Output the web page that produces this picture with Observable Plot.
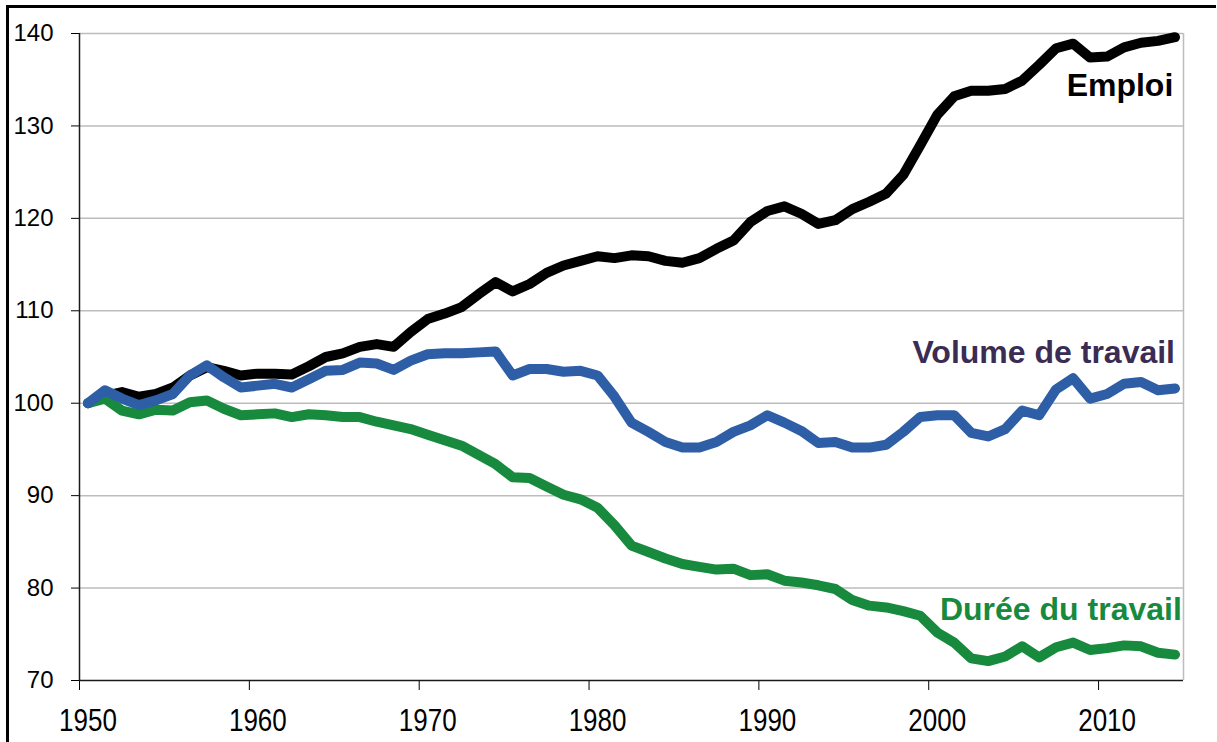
<!DOCTYPE html>
<html><head><meta charset="utf-8">
<script src="https://cdn.jsdelivr.net/npm/d3@7"></script>
<script src="https://cdn.jsdelivr.net/npm/@observablehq/plot@0.6"></script>
<style>
html,body{margin:0;padding:0;background:#fff;}
#wrap{position:relative;width:1217px;height:742px;overflow:hidden;}
#frame{position:absolute;left:6px;top:5px;width:1207px;height:800px;border-top:3px solid #000;border-left:3px solid #000;}
#chart{position:absolute;left:0;top:0;}
</style></head><body><div id="wrap"><div id="frame"></div><div id="chart"></div></div>
<script>
const years = [1950,1951,1952,1953,1954,1955,1956,1957,1958,1959,1960,1961,1962,1963,1964,1965,1966,1967,1968,1969,
1970,1971,1972,1973,1974,1975,1976,1977,1978,1979,1980,1981,1982,1983,1984,1985,1986,1987,1988,1989,
1990,1991,1992,1993,1994,1995,1996,1997,1998,1999,2000,2001,2002,2003,2004,2005,2006,2007,2008,2009,
2010,2011,2012,2013,2014];
const emploi = [100,100.8,101.2,100.7,101.0,101.7,103.0,103.9,103.5,103.0,103.2,103.2,103.1,104.0,105.0,105.4,106.1,106.4,106.1,107.7,
109.1,109.7,110.4,111.8,113.1,112.1,112.9,114.1,114.9,115.4,115.9,115.7,116.0,115.9,115.4,115.2,115.7,116.7,117.6,119.6,
120.8,121.3,120.5,119.4,119.8,121.0,121.8,122.7,124.7,127.9,131.2,133.2,133.8,133.8,134.0,134.9,136.6,138.4,138.9,137.4,
137.5,138.5,139.0,139.2,139.6];
const volume = [100,101.4,100.5,99.8,100.3,101.0,103.0,104.1,102.8,101.7,101.9,102.1,101.7,102.6,103.5,103.6,104.4,104.3,103.6,104.6,
105.3,105.4,105.4,105.5,105.6,103.0,103.7,103.7,103.4,103.5,103.0,100.7,97.9,96.9,95.8,95.2,95.2,95.8,96.9,97.6,
98.7,97.9,97.0,95.7,95.8,95.2,95.2,95.5,96.9,98.5,98.7,98.7,96.8,96.4,97.2,99.2,98.7,101.5,102.7,100.5,
101.0,102.1,102.3,101.4,101.6];
const duree = [100,100.5,99.2,98.8,99.3,99.2,100.1,100.3,99.4,98.7,98.8,98.9,98.5,98.8,98.7,98.5,98.5,98.0,97.6,97.2,
96.6,96.0,95.4,94.4,93.4,92.0,91.9,91.0,90.1,89.6,88.7,86.8,84.6,83.9,83.2,82.6,82.3,82.0,82.1,81.4,
81.5,80.8,80.6,80.3,79.9,78.7,78.1,77.9,77.5,77.0,75.2,74.1,72.4,72.1,72.6,73.7,72.5,73.6,74.1,73.3,
73.5,73.8,73.7,73.0,72.8];
const seriesNames = ["Emploi","Durée du travail","Volume de travail"];
const seriesColors = ["#000000","#178a3d","#2e5ea6"];
const labelNames = ["Emploi","Volume de travail","Durée du travail"];
const labelX = [2014.4, 2014.5, 2014.9];
const labelY = [134.4, 105.5, 77.7];
const labelColors = ["#000000","#3a2c52","#178a3d"];
const yTicks = [70,80,90,100,110,120,130,140];
const xTicks = [1950,1960,1970,1980,1990,2000,2010];

const seriesValues = [emploi, duree, volume];
const lineMarks = seriesNames.map((name, k) =>
  Plot.line(years.map((yr, i) => ({year: yr, value: seriesValues[k][i]})), {
    x: d => d.year + 0.5, y: "value", stroke: seriesColors[k], strokeWidth: 10,
    strokeLinejoin: "round", strokeLinecap: "round"
  })
);
const labels = labelNames.map((t, i) => ({t, x: labelX[i], y: labelY[i], c: labelColors[i]}));

const chart = Plot.plot({
  width: 1217, height: 742,
  marginLeft: 79, marginRight: 34, marginTop: 33, marginBottom: 62,
  x: {domain: [1950, 2015]},
  y: {domain: [70, 140]},
  style: {fontFamily: "'Liberation Sans', Arial, sans-serif", background: "transparent", color: "#000", overflow: "visible"},
  marks: [
    Plot.ruleY(yTicks.filter(t => t > 70), {stroke: "#bdbdbd", strokeWidth: 1.5}),
    Plot.ruleX([2015], {stroke: "#bdbdbd", strokeWidth: 1.5}),
    Plot.axisY({ticks: yTicks, tickSize: 8, tickPadding: 18, fontSize: 24, label: null, tickFormat: d => String(d)}),
    Plot.axisX({ticks: xTicks, tickSize: 10, tickFormat: () => "", label: null}),
    Plot.axisX({ticks: xTicks, tickSize: 0, tickPadding: 28, dx: 8.5, fontSize: 26, label: null, tickFormat: d => String(d)}),
    Plot.ruleX([1950], {stroke: "#1a1a1a", strokeWidth: 1.5}),
    Plot.ruleY([70], {stroke: "#1a1a1a", strokeWidth: 1.5}),
    ...lineMarks,
    Plot.text(labels, {x: "x", y: "y", text: "t", fill: d => d.c, textAnchor: "end", fontSize: 32, fontWeight: "bold"})
  ]
});
// the reference's year labels are drawn in a tall, narrow face: stretch them vertically
chart.querySelectorAll('g[aria-label="x-axis tick label"] text').forEach(t => {
  const tr = t.getAttribute("transform") || "";
  t.setAttribute("transform", tr + " scale(1,1.24)");
});
document.getElementById("chart").appendChild(chart);
</script>
</body></html>
